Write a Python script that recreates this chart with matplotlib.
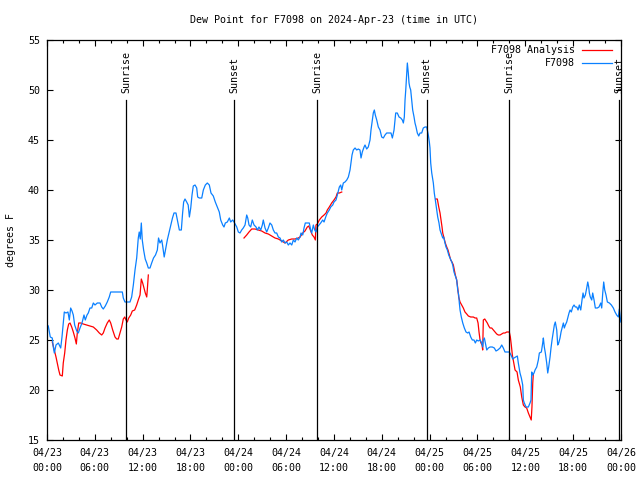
import numpy as np
import pandas as pd
import matplotlib
matplotlib.use('Agg')
import matplotlib.pyplot as plt
import matplotlib.dates as mdates

# Hours since 2024-04-23 00:00 UTC, dew point in degrees F
blue_hours = [0.05, 0.16, 0.29, 0.41, 0.66, 0.79, 0.92, 1.13, 1.42, 1.72, 1.88, 2.04, 2.17, 2.38, 2.63,
              2.80, 2.97, 3.14, 3.30, 3.47, 3.73, 3.93, 4.14, 4.39, 4.64, 4.80, 5.02, 5.18, 5.39, 5.61,
              5.81, 6.02, 6.31, 6.65, 6.86, 7.06, 7.31, 7.56, 7.81, 7.99, 8.74, 9.45, 9.57, 9.78, 10.41,
              10.62, 10.83, 11.04, 11.25, 11.45, 11.57, 11.70, 11.83, 11.95, 12.12, 12.32, 12.51, 12.71,
              12.92, 13.13, 13.36, 13.61, 13.84, 13.99, 14.17, 14.39, 14.51, 14.70, 14.89, 15.09, 15.30,
              15.53, 15.74, 15.93, 16.18, 16.40, 16.60, 16.85, 17.00, 17.14, 17.31, 17.52, 17.71, 17.86,
              18.03, 18.19, 18.35, 18.57, 18.78, 18.90, 19.10, 19.41, 19.61, 19.86, 20.11, 20.36, 20.57,
              20.86, 21.11, 21.36, 21.61, 21.79, 22.04, 22.20, 22.37, 22.62, 22.87, 23.04, 23.29, 23.46,
              23.80, 24.00, 24.21, 24.42, 24.62, 24.84, 25.05, 25.18, 25.34, 25.55, 25.75, 25.97, 26.22,
              26.38, 26.59, 26.81, 27.01, 27.13, 27.35, 27.56, 27.76, 27.97, 28.19, 28.39, 28.60, 28.81,
              29.02, 29.23, 29.44, 29.64, 29.86, 30.07, 30.27, 30.48, 30.70, 30.90, 31.11, 31.32, 31.52,
              31.74, 31.86, 32.08, 32.24, 32.40, 32.65, 32.90, 33.08, 33.20, 33.41, 33.58, 33.74, 33.91,
              34.12, 34.33, 34.58, 34.75, 34.96, 35.16, 35.41, 35.59, 35.84, 36.00, 36.25, 36.42, 36.67,
              36.84, 36.97, 37.17, 37.38, 37.60, 37.80, 38.01, 38.13, 38.26, 38.42, 38.64, 38.85, 39.05,
              39.26, 39.39, 39.55, 39.77, 39.89, 40.10, 40.30, 40.52, 40.64, 40.77, 40.93, 41.06, 41.18,
              41.36, 41.56, 41.77, 41.98, 42.19, 42.40, 42.61, 42.90, 43.15, 43.32, 43.53, 43.65, 43.74,
              43.94, 44.16, 44.37, 44.57, 44.70, 44.82, 44.91, 45.00, 45.07, 45.20, 45.32, 45.41, 45.50,
              45.62, 45.75, 45.87, 46.04, 46.16, 46.29, 46.45, 46.63, 46.79, 47.00, 47.20, 47.42, 47.63,
              47.83, 47.96, 48.04, 48.13, 48.26, 48.46, 48.58, 48.71, 48.88, 49.01, 49.17, 49.30, 49.51,
              49.64, 49.76, 49.89, 50.05, 50.22, 50.39, 50.55, 50.77, 50.89, 51.05, 51.22, 51.39, 51.52,
              51.64, 51.72, 51.81, 51.97, 52.15, 52.35, 52.56, 52.77, 52.94, 53.15, 53.35, 53.56, 53.73,
              53.90, 54.10, 54.32, 54.53, 54.65, 54.73, 54.86, 54.98, 55.16, 55.36, 55.57, 55.86, 56.11,
              56.32, 56.54, 56.83, 57.04, 57.24, 57.45, 57.99, 58.20, 58.42, 58.58, 58.80, 59.00, 59.12,
              59.33, 59.50, 59.67, 59.75, 59.87, 60.09, 60.38, 60.59, 60.71, 60.80, 60.93, 61.09, 61.22,
              61.43, 61.63, 61.76, 62.01, 62.18, 62.26, 62.38, 62.51, 62.68, 62.81, 62.93, 63.10, 63.22,
              63.35, 63.51, 63.64, 63.76, 63.94, 64.06, 64.19, 64.35, 64.48, 64.64, 64.77, 64.89, 65.02,
              65.19, 65.35, 65.48, 65.61, 65.77, 65.94, 66.11, 66.27, 66.45, 66.61, 66.77, 66.95, 67.11,
              67.24, 67.36, 67.53, 67.70, 67.83, 67.95, 68.03, 68.15, 68.33, 68.45, 68.62, 68.78, 69.03,
              69.24, 69.46, 69.58, 69.71, 69.83, 69.96, 70.12, 70.29, 70.54, 70.79, 71.04, 71.25, 71.46,
              71.67, 71.79, 71.97]
blue_dewpt = [26.5, 26.4, 25.8, 25.3, 25.2, 24.3, 23.7, 24.5, 24.7, 24.2, 25.3, 26.7, 27.8, 27.7, 27.8,
              27.0, 28.2, 27.9, 27.5, 26.5, 25.9, 25.7, 26.2, 26.7, 27.5, 27.0, 27.5, 27.7, 28.2, 28.2,
              28.7, 28.5, 28.7, 28.7, 28.3, 28.1, 28.4, 28.8, 29.3, 29.8, 29.8, 29.8, 29.2, 28.8, 28.8,
              29.3, 30.5, 32.0, 33.2, 35.2, 35.8, 35.1, 36.7, 35.0, 34.0, 33.1, 32.7, 32.2,
              32.2, 32.7, 33.2, 33.5, 34.0, 35.2, 34.7, 35.0, 34.4, 33.3, 34.1, 35.0, 35.7,
              36.5, 37.2, 37.7, 37.7, 36.8, 36.0, 36.0, 37.6, 38.8, 39.1, 38.8, 38.5, 37.3,
              38.2, 39.5, 40.4, 40.5, 40.2, 39.3, 39.2, 39.2, 40.0, 40.5, 40.7, 40.5, 39.7,
              39.4, 38.8, 38.3, 37.8, 37.0, 36.5, 36.3, 36.7, 36.8, 37.2, 36.8, 37.0, 36.8,
              36.3, 35.8, 35.7, 36.0, 36.2, 36.5, 37.5, 37.2, 36.5, 36.3, 37.0, 36.5, 36.3,
              36.0, 36.3, 36.0, 36.5, 37.0, 36.2, 35.8, 36.2, 36.7, 36.5, 36.0, 35.7, 35.7,
              35.3, 35.2, 34.8, 35.0, 34.7, 34.8, 34.5, 34.7, 34.5, 35.0, 34.8, 35.2, 35.0,
              35.3, 35.7, 35.5, 36.2, 36.7, 36.7, 36.7, 36.0, 35.7, 36.5, 36.0, 35.8, 36.3,
              36.5, 36.7, 37.0, 36.8, 37.3, 37.7, 38.0, 38.3, 38.5, 38.8, 39.0, 39.5, 40.3,
              40.5, 40.0, 40.7, 40.8, 41.0, 41.3, 42.0, 42.7, 43.5, 44.0, 44.2, 44.0, 44.1,
              44.0, 43.2, 43.8, 44.3, 44.5, 44.1, 44.3, 45.0, 46.0, 46.8, 47.7, 48.0, 47.5,
              47.0, 46.3, 46.0, 45.3, 45.2, 45.5, 45.7, 45.7, 45.7, 45.2, 46.0, 47.0, 47.7,
              47.7, 47.3, 47.2, 47.0, 46.7, 47.3, 49.0, 50.0, 51.0, 52.7, 51.7, 50.7, 50.3,
              50.0, 49.0, 48.0, 47.3, 46.7, 46.3, 45.7, 45.4, 45.7, 45.7, 46.2, 46.3, 46.3,
              45.5, 44.8, 44.2, 42.7, 41.7, 40.7, 39.7, 39.0, 38.0, 37.3, 36.7, 36.0, 35.5,
              35.2, 35.3, 34.8, 34.3, 34.0, 33.5, 33.2, 32.8, 32.5, 31.8, 31.4, 31.0, 30.0,
              29.5, 28.7, 28.0, 27.3, 26.7, 26.2, 25.8, 25.7, 25.8, 25.3, 25.0, 25.0, 24.7,
              25.0, 24.9, 25.0, 24.7, 24.3, 25.0, 25.2, 24.7, 24.0, 24.2, 24.3, 24.3, 24.2,
              23.9, 24.0, 24.2, 24.5, 24.2, 23.8, 23.8, 23.5, 23.1, 23.2, 23.3, 23.4, 22.7,
              21.7, 21.2, 20.5, 19.0, 18.7, 18.3, 18.3, 18.7, 19.0, 21.8, 21.5, 21.7, 22.0,
              22.3, 23.0, 23.7, 23.8, 24.7, 25.2, 24.3, 23.7, 22.7, 21.7, 22.3, 23.3, 24.2,
              25.0, 25.8, 26.5, 26.8, 26.0, 24.5, 24.7, 25.2, 25.8, 26.3, 26.7, 26.2, 26.5,
              26.8, 27.3, 27.7, 28.0, 27.8, 28.3, 28.5, 28.3, 28.3, 28.0, 28.5, 28.0, 29.0,
              29.7, 29.2, 29.5, 30.2, 30.8, 30.3, 29.7, 29.3, 29.0, 29.7, 29.0, 28.2, 28.2,
              28.3, 28.7, 28.2, 29.7, 30.8, 30.0, 29.5, 28.8, 28.7, 28.5, 28.2, 27.8, 27.5,
              27.3, 28.1, 26.8]

# Analysis series, NaN marks a gap in the record
red_hours = [0.66, 0.97, 1.13, 1.29, 1.47, 1.63, 1.92, 2.04, 2.22, 2.38, 2.55, 2.72, 2.89, 3.10, 3.30,
             3.51, 3.68, 3.80, 3.98, 4.23, 4.55, 4.98, 5.39, 5.81, 6.23, 6.56, 6.86, 7.06, 7.28, 7.56,
             7.81, 7.99, 8.24, 8.53, 8.74, 8.94, 9.16, 9.37, 9.57, 9.75, 9.91, 10.07, 10.25, 10.50,
             10.70, 11.00, 11.25, 11.45, 11.67, 11.83, 12.00, 12.17, 12.33, 12.51, 12.58, 12.71,
             18.0,
             24.71, 25.05, 25.34, 25.68, 26.09, 26.51, 26.93, 27.35, 27.76, 28.19, 28.60, 29.02, 29.44,
             29.86, 30.27, 30.70, 31.11, 31.52, 31.74, 32.08, 32.36, 32.65, 32.83, 33.03, 33.28, 33.49,
             33.66, 33.74, 33.91, 34.16, 34.46, 34.75, 35.00, 35.16, 35.41, 35.71, 36.00, 36.25, 36.42,
             36.67, 36.97,
             42.0,
             48.76, 48.96, 49.14, 49.30, 49.43, 49.55, 49.64, 49.80, 49.96, 50.14, 50.30, 50.47, 50.64,
             50.80, 50.97, 51.09, 51.22, 51.39, 51.52, 51.64, 51.81, 52.02, 52.22, 52.43, 52.65, 52.85,
             53.15, 53.48, 53.69, 53.90, 54.07, 54.19, 54.32, 54.44, 54.57, 54.65, 54.73, 54.91, 55.07,
             55.23, 55.41, 55.57, 55.78, 55.99, 56.20, 56.41, 56.61, 56.83, 57.04, 57.24, 57.45, 57.67,
             57.99, 58.12, 58.24, 58.37, 58.55, 58.71, 58.96, 59.12, 59.37, 59.55, 59.75, 59.96, 60.17,
             60.38, 60.59, 60.74, 60.83, 60.93, 61.00]
red_dewpt = [24.8, 23.8, 23.3, 22.7, 22.0, 21.5, 21.4, 22.7, 23.7, 25.0, 26.0, 26.6, 26.7, 26.3, 25.8,
             25.2, 24.6, 25.7, 26.7, 26.7, 26.6, 26.5, 26.4, 26.3, 26.0, 25.7, 25.5, 25.7, 26.2, 26.7,
             27.0, 26.7, 26.0, 25.3, 25.1, 25.1, 25.7, 26.3, 27.1, 27.3, 27.0, 26.8, 27.2, 27.5,
             27.9, 28.0, 28.5, 29.0, 29.5, 31.1, 30.7, 30.2, 29.7, 29.3, 30.0, 31.5,
             np.nan,
             35.2, 35.5, 35.8, 36.1, 36.1, 36.0, 35.9, 35.7, 35.6, 35.4, 35.2, 35.1, 34.9,
             34.7, 35.0, 35.1, 35.1, 35.2, 35.3, 35.7, 35.9, 36.3, 36.4, 36.0, 35.5, 35.3,
             35.0, 36.5, 36.6, 37.0, 37.3, 37.5, 37.7, 38.0, 38.3, 38.7, 39.0, 39.3, 39.7,
             39.7, 39.8,
             np.nan,
             39.1, 39.1, 38.3, 37.7, 37.0, 36.3, 35.7, 35.2, 34.7, 34.3, 34.0, 33.5, 33.0,
             32.8, 32.5, 32.0, 31.5, 31.0, 30.2, 29.3, 28.8, 28.5, 28.2, 27.8, 27.6, 27.4,
             27.3, 27.3, 27.2, 27.2, 26.7, 25.8, 25.0, 24.7, 24.5, 24.0, 27.0, 27.1, 26.9,
             26.7, 26.4, 26.2, 26.2, 26.0, 25.8, 25.6, 25.5, 25.5, 25.6, 25.7, 25.7, 25.8,
             25.8, 25.3, 24.5, 23.5, 22.7, 22.0, 21.8, 21.0, 20.3, 19.3, 18.5, 18.3, 18.2,
             17.7, 17.3, 17.0, 18.3, 20.7, 21.6]

event_hours = [9.92, 23.5, 33.92, 47.64, 57.98, 71.75]
event_names = ['Sunrise', 'Sunset', 'Sunrise', 'Sunset', 'Sunrise', 'Sunset']

start = pd.Timestamp('2024-04-23 00:00')
def to_time(h):
    return start + pd.to_timedelta(np.asarray(h, dtype=float), unit='h')

plt.rcParams['font.family'] = ['DejaVu Sans Mono']
plt.rcParams['font.size'] = 7.2

fig = plt.figure(figsize=(6.4, 4.8), dpi=100)
ax = fig.add_axes([47 / 640, 40 / 480, 574 / 640, 400 / 480])

red_line, = ax.plot(to_time(red_hours), red_dewpt, color='#ff0000', lw=0.9)
blue_line, = ax.plot(to_time(blue_hours), blue_dewpt, color='#0a80ff', lw=0.9)

# sunrise / sunset markers
for h, name in zip(event_hours, event_names):
    t = to_time([h])[0]
    ax.axvline(t, ymin=0, ymax=0.85, color='black', lw=0.9)
    ax.text(t, 0.868, name, transform=ax.get_xaxis_transform(), rotation=90,
            ha='center', va='bottom', fontsize=7.2)

ax.set_xlim(start, start + pd.Timedelta(hours=72))
ax.set_ylim(15, 55)
ax.set_yticks(np.arange(15, 56, 5))
ax.xaxis.set_major_locator(mdates.HourLocator(byhour=[0, 6, 12, 18]))
ax.xaxis.set_minor_locator(mdates.HourLocator(interval=2))
ax.xaxis.set_major_formatter(mdates.DateFormatter('%m/%d\n%H:%M'))
ax.tick_params(which='both', direction='in', top=True, right=True, width=0.8)
ax.tick_params(which='major', length=4)
ax.tick_params(which='minor', length=2.2)
ax.tick_params(axis='x', pad=6)
ax.tick_params(axis='y', pad=5)
for lab in ax.get_xticklabels():
    lab.set_linespacing(1.6)
for s in ax.spines.values():
    s.set_linewidth(0.9)

ax.set_ylabel('degrees F', labelpad=9)
ax.set_title('Dew Point for F7098 on 2024-Apr-23 (time in UTC)', pad=12, fontsize=7.2)

# legend, right aligned text like the original
ax.text(0.920, 0.975, 'F7098 Analysis', transform=ax.transAxes, ha='right', va='center')
ax.plot([0.932, 0.984], [0.975, 0.975], transform=ax.transAxes, color='#ff0000', lw=0.9)
ax.text(0.920, 0.9425, 'F7098', transform=ax.transAxes, ha='right', va='center')
ax.plot([0.932, 0.984], [0.9425, 0.9425], transform=ax.transAxes, color='#0a80ff', lw=0.9)

fig.savefig('out.png', dpi=100)
